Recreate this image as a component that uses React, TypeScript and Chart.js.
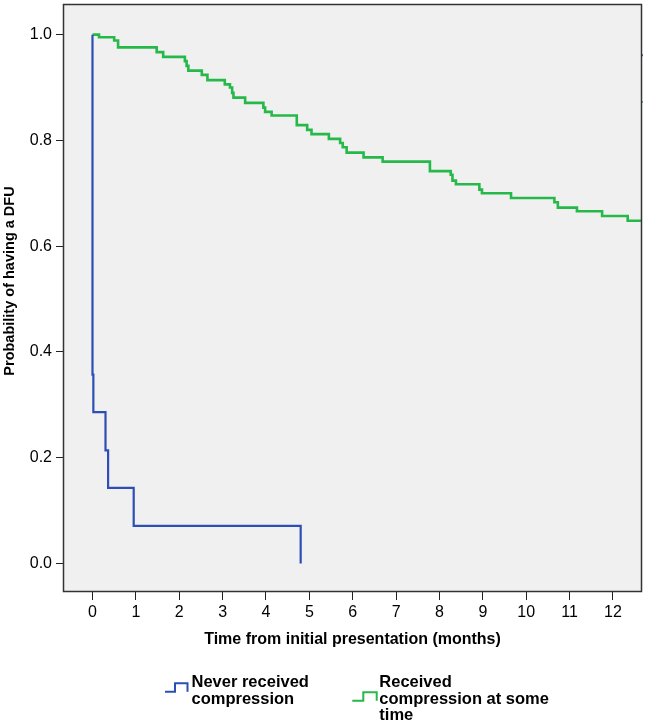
import React, { useEffect, useRef } from "react";
import { Chart, registerables } from "chart.js";

Chart.register(...registerables);

// ---- data ----
const xTicks = [0, 1, 2, 3, 4, 5, 6, 7, 8, 9, 10, 11, 12];
const yTicks = [0.0, 0.2, 0.4, 0.6, 0.8, 1.0];
const xTitle = "Time from initial presentation (months)";
const yTitle = "Probability of having a DFU";
const seriesNames = ["Never received compression", "Received compression at some time"];
const legendLines = [
  ["Never received", "compression"],
  ["Received", "compression at some", "time"],
];

const neverTimes = [0, 0, 0.02, 0.3, 0.36, 0.95, 4.8];
const neverSurv = [1.0, 0.357, 0.286, 0.214, 0.143, 0.071, 0.0];

const receivedTimes = [
  0, 0.15, 0.5, 0.59, 1.48, 1.63, 2.13, 2.17, 2.21, 2.52, 2.65, 3.05, 3.17, 3.22, 3.25,
  3.52, 3.94, 3.98, 4.13, 4.71, 4.95, 5.05, 5.45, 5.71, 5.77, 5.86, 6.25, 6.69, 7.78,
  8.26, 8.3, 8.38, 8.92, 8.98, 9.65, 10.65, 10.73, 11.17, 11.75, 12.34, 12.7,
];
const receivedSurv = [
  1.0, 0.995, 0.989, 0.976, 0.967, 0.958, 0.95, 0.941, 0.932, 0.924, 0.914, 0.906, 0.9, 0.89,
  0.881, 0.871, 0.862, 0.854, 0.847, 0.829, 0.82, 0.812, 0.803, 0.795, 0.787, 0.777, 0.768,
  0.76, 0.742, 0.735, 0.724, 0.717, 0.707, 0.7, 0.691, 0.683, 0.673, 0.666, 0.657, 0.648,
  0.648,
];

// small marks sitting on the right border
const edgeMarkSurv = [0.961, 0.873];

const X_MIN = -0.68;
const X_MAX = 12.67;
const Y_MIN = -0.054;
const Y_MAX = 1.058;

const BLUE = "#2d4fb5";
const GREEN = "#27b84a";
const colors = [BLUE, GREEN];

const FONT = "'Liberation Sans', Arial, sans-serif";

const decorPlugin = {
  id: "decor",
  beforeDraw(chart: any) {
    const { ctx, chartArea: a } = chart;
    ctx.save();
    ctx.fillStyle = "#ffffff";
    ctx.fillRect(0, 0, chart.width, chart.height);
    ctx.fillStyle = "#f0f0f0";
    ctx.fillRect(a.left, a.top, a.right - a.left, a.bottom - a.top);
    ctx.restore();
  },
  afterDraw(chart: any) {
    const { ctx, chartArea: a } = chart;
    ctx.save();
    // frame
    ctx.strokeStyle = "#333333";
    ctx.lineWidth = 1.5;
    ctx.strokeRect(a.left + 0.5, a.top + 0.5, a.right - a.left - 1, a.bottom - a.top - 1);

    // axis titles
    ctx.fillStyle = "#000";
    ctx.font = `bold 16px ${FONT}`;
    ctx.textAlign = "center";
    ctx.textBaseline = "middle";
    ctx.fillText(xTitle, (a.left + a.right) / 2, 640);

    ctx.save();
    ctx.translate(10, 281);
    ctx.rotate(-Math.PI / 2);
    ctx.font = `bold 14.5px ${FONT}`;
    ctx.fillText(yTitle, 0, 0);
    ctx.restore();

    // legend
    const items = [
      { icon: [[165, 691.7], [175, 691.7], [175, 683.3], [187.5, 683.3], [187.5, 691.7]], tx: 191.5 },
      { icon: [[352.3, 700.7], [363.3, 700.7], [363.3, 692.3], [376.7, 692.3], [376.7, 700.7]], tx: 379.3 },
    ];
    items.forEach((it, i) => {
      ctx.strokeStyle = colors[i];
      ctx.lineWidth = 2;
      ctx.beginPath();
      it.icon.forEach((p, j) => (j === 0 ? ctx.moveTo(p[0], p[1]) : ctx.lineTo(p[0], p[1])));
      ctx.stroke();
      ctx.fillStyle = "#000";
      ctx.font = `bold 16.5px ${FONT}`;
      ctx.textAlign = "left";
      ctx.textBaseline = "alphabetic";
      legendLines[i].forEach((line, k) => {
        ctx.fillText(line, it.tx, 687.3 + k * 16.5);
      });
    });
    ctx.restore();
  },
};

export default function App() {
  const ref = useRef<HTMLCanvasElement | null>(null);

  useEffect(() => {
    if (!ref.current) return;
    const chart = new Chart(ref.current, {
      type: "line",
      data: {
        datasets: [
          {
            label: seriesNames[0],
            data: neverTimes.map((t, i) => ({ x: t, y: neverSurv[i] })),
            stepped: "before",
            borderColor: BLUE,
            borderWidth: 2.2,
            pointRadius: 0,
            fill: false,
          },
          {
            label: seriesNames[1],
            data: receivedTimes.map((t, i) => ({ x: t, y: receivedSurv[i] })),
            stepped: "before",
            borderColor: GREEN,
            borderWidth: 2.6,
            pointRadius: 0,
            fill: false,
          },
          {
            label: "edge-blue",
            data: [{ x: X_MAX, y: edgeMarkSurv[0] }],
            showLine: false,
            pointRadius: 1.3,
            pointStyle: "rect",
            pointBackgroundColor: BLUE,
            pointBorderWidth: 0,
            clip: false,
          },
          {
            label: "edge-green",
            data: [{ x: X_MAX, y: edgeMarkSurv[1] }],
            showLine: false,
            pointRadius: 1.3,
            pointStyle: "rect",
            pointBackgroundColor: GREEN,
            pointBorderWidth: 0,
            clip: false,
          },
        ],
      },
      options: {
        animation: false,
        responsive: false,
        devicePixelRatio: 1,
        layout: { padding: { left: 0, top: 1, right: 4, bottom: 0 } },
        plugins: {
          legend: { display: false },
          tooltip: { enabled: false },
          title: { display: false },
        },
        scales: {
          x: {
            type: "linear",
            min: X_MIN,
            max: X_MAX,
            afterBuildTicks: (s: any) => {
              s.ticks = xTicks.map((v) => ({ value: v }));
            },
            afterFit: (s: any) => {
              s.height = 131;
              s.paddingLeft = 0;
              s.paddingRight = 0;
            },
            ticks: {
              callback: (v: any) => String(v),
              color: "#000",
              font: { family: FONT, size: 16 },
              padding: 3,
              maxRotation: 0,
              autoSkip: false,
            },
            grid: {
              display: true,
              drawOnChartArea: false,
              drawTicks: true,
              tickLength: 8,
              color: "#222",
              lineWidth: 1,
            },
            border: { display: false },
          },
          y: {
            type: "linear",
            min: Y_MIN,
            max: Y_MAX,
            afterBuildTicks: (s: any) => {
              s.ticks = yTicks.map((v) => ({ value: v }));
            },
            afterFit: (s: any) => {
              s.width = 63;
              s.paddingTop = 0;
              s.paddingBottom = 0;
            },
            ticks: {
              callback: (v: any) => Number(v).toFixed(1),
              color: "#000",
              font: { family: FONT, size: 16 },
              padding: 4,
              autoSkip: false,
            },
            grid: {
              display: true,
              drawOnChartArea: false,
              drawTicks: true,
              tickLength: 7,
              color: "#222",
              lineWidth: 1,
            },
            border: { display: false },
          },
        },
      },
      plugins: [decorPlugin],
    } as any);
    return () => chart.destroy();
  }, []);

  return (
    <div style={{ position: "absolute", left: 0, top: 0, width: 646, height: 723, background: "#fff" }}>
      <canvas ref={ref} width={646} height={723} style={{ width: 646, height: 723, display: "block" }} />
    </div>
  );
}
